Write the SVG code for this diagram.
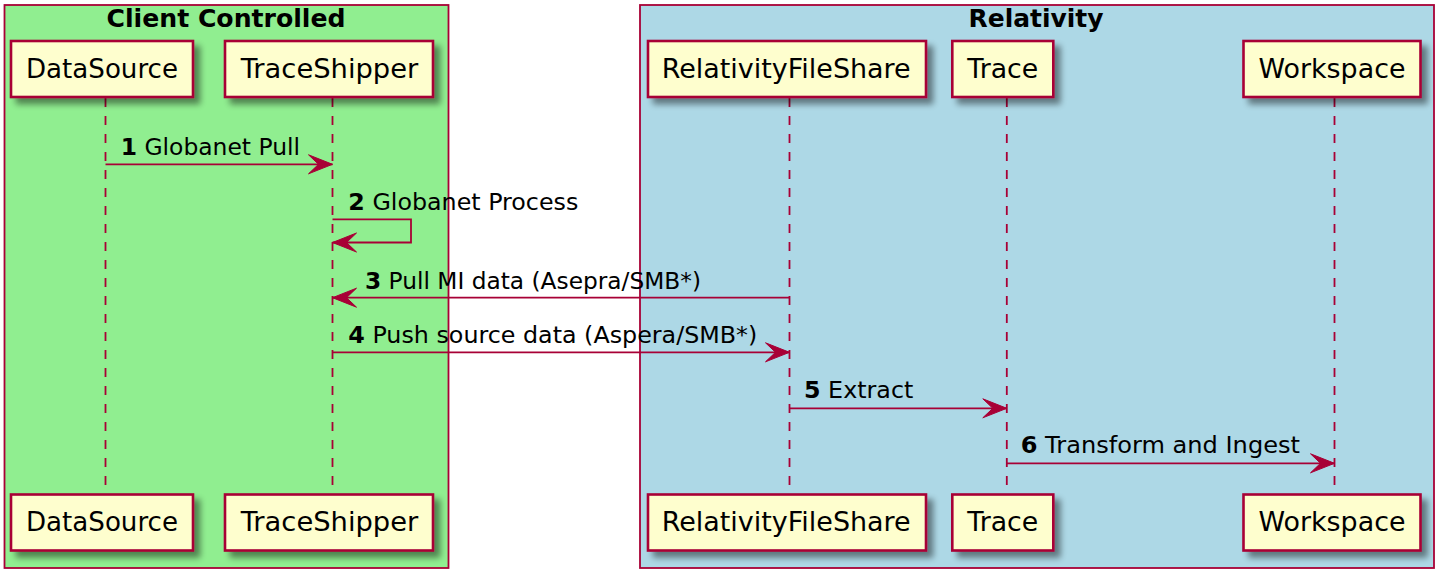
<svg xmlns="http://www.w3.org/2000/svg" width="1446" height="583" viewBox="0 0 1446 583">
<style>
.grp{stroke:#A80036;stroke-width:1.8}
.part rect{fill:#FEFECE;stroke:#A80036;stroke-width:2.6;filter:url(#sh)}
.part text{font-family:"DejaVu Sans",sans-serif;font-size:26px;fill:#000;text-anchor:middle}
.title{font-family:"DejaVu Sans",sans-serif;font-size:24px;font-weight:bold;fill:#000;text-anchor:middle}
.life{stroke:#A80036;stroke-width:1.8;stroke-dasharray:9,9;fill:none}
.arr{stroke:#A80036;stroke-width:1.8;fill:none;marker-end:url(#ah)}
.lbl{font-family:"DejaVu Sans",sans-serif;font-size:23.6px;fill:#000}
.lbl tspan.n{font-weight:bold}
</style>
<defs>
<filter id="sh" x="-20%" y="-30%" width="150%" height="180%">
<feGaussianBlur in="SourceAlpha" stdDeviation="3"/>
<feOffset dx="6" dy="6" result="b"/>
<feComponentTransfer in="b" result="c"><feFuncA type="linear" slope="0.45"/></feComponentTransfer>
<feMerge><feMergeNode in="c"/><feMergeNode in="SourceGraphic"/></feMerge>
</filter>
<marker id="ah" markerUnits="userSpaceOnUse" orient="auto" markerWidth="30" markerHeight="24" viewBox="-27 -12 30 24" refX="0" refY="0" overflow="visible">
<polygon points="-24,-9.5 0,0 -24,9.5 -14,0" fill="#A80036" stroke="#A80036" stroke-width="1"/>
</marker>
</defs>
<rect width="1446" height="583" fill="#FFFFFF"/>
<g id="box-client">
<rect class="grp" x="4.5" y="5" width="444" height="563" fill="#90EE90"/>
<text class="title" x="226" y="26.5" textLength="239" lengthAdjust="spacingAndGlyphs">Client Controlled</text>
</g>
<g id="box-relativity">
<rect class="grp" x="640" y="5" width="794" height="563" fill="#ADD8E6"/>
<text class="title" x="1036" y="26.5" textLength="135" lengthAdjust="spacingAndGlyphs">Relativity</text>
</g>
<g id="lifelines">
<line class="life" x1="105.5" y1="98" x2="105.5" y2="494"/>
<line class="life" x1="332.5" y1="98" x2="332.5" y2="494"/>
<line class="life" x1="789.5" y1="98" x2="789.5" y2="494"/>
<line class="life" x1="1006.8" y1="98" x2="1006.8" y2="494"/>
<line class="life" x1="1334.5" y1="98" x2="1334.5" y2="494"/>
</g>
<g id="DataSource" class="part">
<rect x="11" y="41" width="182" height="56"/>
<text x="102" y="77.5" textLength="152" lengthAdjust="spacingAndGlyphs">DataSource</text>
<rect x="11" y="494.5" width="182" height="56"/>
<text x="102" y="531" textLength="152" lengthAdjust="spacingAndGlyphs">DataSource</text>
</g>
<g id="TraceShipper" class="part">
<rect x="225" y="41" width="208" height="56"/>
<text x="329.5" y="77.5" textLength="177.6" lengthAdjust="spacingAndGlyphs">TraceShipper</text>
<rect x="225" y="494.5" width="208" height="56"/>
<text x="329.5" y="531" textLength="177.6" lengthAdjust="spacingAndGlyphs">TraceShipper</text>
</g>
<g id="RelativityFileShare" class="part">
<rect x="648" y="41" width="278" height="56"/>
<text x="786.2" y="77.5" textLength="249" lengthAdjust="spacingAndGlyphs">RelativityFileShare</text>
<rect x="648" y="494.5" width="278" height="56"/>
<text x="786.2" y="531" textLength="249" lengthAdjust="spacingAndGlyphs">RelativityFileShare</text>
</g>
<g id="Trace" class="part">
<rect x="952.3" y="41" width="101" height="56"/>
<text x="1002.8" y="77.5" textLength="71" lengthAdjust="spacingAndGlyphs">Trace</text>
<rect x="952.3" y="494.5" width="101" height="56"/>
<text x="1002.8" y="531" textLength="71" lengthAdjust="spacingAndGlyphs">Trace</text>
</g>
<g id="Workspace" class="part">
<rect x="1243.5" y="41" width="177" height="56"/>
<text x="1332" y="77.5" textLength="147" lengthAdjust="spacingAndGlyphs">Workspace</text>
<rect x="1243.5" y="494.5" width="177" height="56"/>
<text x="1332" y="531" textLength="147" lengthAdjust="spacingAndGlyphs">Workspace</text>
</g>
<g id="connectors">
<line class="arr" x1="105.5" y1="164.3" x2="332.5" y2="164.3"/>
<text class="lbl" x="120.7" y="154.6" textLength="179.3" lengthAdjust="spacingAndGlyphs"><tspan class="n">1</tspan> Globanet Pull</text>
<polyline class="arr" points="332.5,219.3 411,219.3 411,242.5 332.5,242.5"/>
<text class="lbl" x="348.3" y="210" textLength="230" lengthAdjust="spacingAndGlyphs"><tspan class="n">2</tspan> Globanet Process</text>
<line class="arr" x1="789.5" y1="297.7" x2="332.5" y2="297.7"/>
<text class="lbl" x="365" y="288.6" textLength="336" lengthAdjust="spacingAndGlyphs"><tspan class="n">3</tspan> Pull MI data (Asepra/SMB*)</text>
<line class="arr" x1="332.5" y1="352.3" x2="789.5" y2="352.3"/>
<text class="lbl" x="348.3" y="343.3" textLength="409" lengthAdjust="spacingAndGlyphs"><tspan class="n">4</tspan> Push source data (Aspera/SMB*)</text>
<line class="arr" x1="789.5" y1="408.3" x2="1006.8" y2="408.3"/>
<text class="lbl" x="804" y="398.3" textLength="109.3" lengthAdjust="spacingAndGlyphs"><tspan class="n">5</tspan> Extract</text>
<line class="arr" x1="1006.8" y1="463.3" x2="1334.5" y2="463.3"/>
<text class="lbl" x="1020.7" y="453" textLength="279.3" lengthAdjust="spacingAndGlyphs"><tspan class="n">6</tspan> Transform and Ingest</text>
</g>
</svg>
